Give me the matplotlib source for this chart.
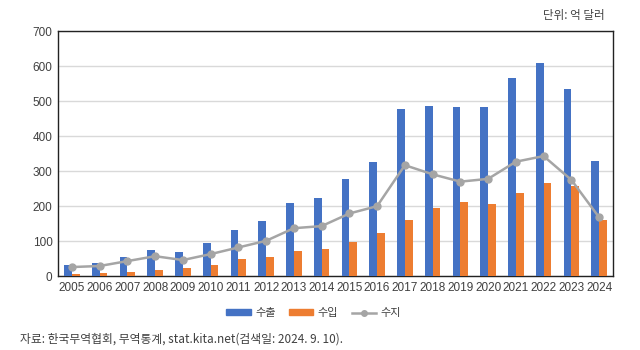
import matplotlib
matplotlib.use("Agg")
import matplotlib.pyplot as plt
import numpy as np
from matplotlib.lines import Line2D
from matplotlib.patches import Patch

plt.rcParams['font.family'] = ['Noto Sans CJK KR', 'DejaVu Sans']

years = [str(y) for y in range(2005, 2025)]
exports = [32, 37, 56, 76, 69, 96, 133, 157, 210, 222, 277, 325, 478, 486, 482, 484, 567, 610, 534, 330]
imports = [6, 8, 13, 19, 23, 32, 50, 55, 72, 78, 97, 124, 161, 195, 211, 205, 239, 267, 258, 160]
balance = [26, 29, 43, 57, 46, 63, 82, 101, 137, 143, 179, 200, 317, 291, 270, 278, 327, 343, 275, 168]

label_font = ['Liberation Sans Narrow', 'Liberation Sans', 'DejaVu Sans']
text_color = '#404040'

fig = plt.figure(figsize=(6.4, 3.5), dpi=100)
ax = fig.add_axes([0.0906, 0.211, 0.8672, 0.70])

x = np.arange(len(years))
w = 0.28
ax.bar(x - w / 2, exports, width=w, color='#4472C4', zorder=3)
ax.bar(x + w / 2, imports, width=w, color='#ED7D31', zorder=3)
ax.plot(x, balance, color='#A5A5A5', lw=1.8, marker='o', ms=5, zorder=4)

ax.set_xlim(-0.5, len(years) - 0.5)
ax.set_ylim(0, 700)
ax.set_yticks(range(0, 701, 100))
ax.set_xticks(x)
ax.set_xticklabels(years)
ax.yaxis.grid(True, color='#D9D9D9', lw=1, zorder=0)
ax.tick_params(length=0, pad=4, colors=text_color)
for lab in ax.get_xticklabels() + ax.get_yticklabels():
    lab.set_fontfamily(label_font)
    lab.set_fontsize(8.5)
for s in ax.spines.values():
    s.set_color('#222222')
    s.set_linewidth(1)

handles = [Patch(color='#4472C4'), Patch(color='#ED7D31'),
           Line2D([], [], color='#A5A5A5', lw=1.8, marker='o', ms=4)]
fig.legend(handles, ['수출', '수입', '수지'], loc='center', bbox_to_anchor=(0.49, 0.105),
           ncol=3, frameon=False, fontsize=8, handlelength=2.2, handleheight=0.5,
           columnspacing=1.2, handletextpad=0.4, labelcolor=text_color)

fig.text(0.945, 0.955, '단위: 억 달러', ha='right', va='center', fontsize=8.3, color=text_color)
fig.text(0.032, 0.03, '자료: 한국무역협회, 무역통계, stat.kita.net(검색일: 2024. 9. 10).',
         ha='left', va='center', fontsize=8.5, color=text_color)

fig.savefig('out.png', dpi=100)
